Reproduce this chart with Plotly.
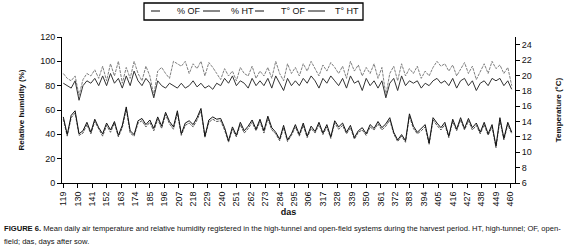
import plotly.graph_objects as go

# days after sowing (sampled every 3 days)
das = list(range(119, 462, 3))

rh_of = [90, 86, 84, 88, 72, 85, 90, 88, 93, 86,
         96, 84, 98, 88, 100, 82, 95, 86, 100, 90,
         84, 96, 88, 72, 92, 95, 90, 86, 100, 98,
         96, 100, 90, 98, 94, 100, 88, 99, 95, 90,
         85, 94, 88, 92, 84, 95, 90, 88, 96, 86,
         92, 88, 95, 86, 100, 90, 84, 98, 90, 95,
         88, 98, 92, 100, 94, 88, 97, 92, 99, 95,
         90, 96, 86, 100, 92, 97, 88, 95, 90, 98,
         86, 95, 72, 90, 96, 84, 98, 88, 94, 90,
         96, 86, 92, 88, 95, 100, 96, 98, 92, 97,
         88, 94, 99, 90, 96, 85, 92, 98, 90, 100,
         94, 97, 90, 95, 80]

rh_ht = [82, 80, 78, 84, 68, 80, 84, 82, 86, 80,
         88, 80, 90, 82, 86, 78, 88, 80, 92, 84,
         80, 86, 82, 70, 84, 80, 78, 82, 80, 78,
         82, 78, 80, 84, 79, 82, 78, 80, 77, 82,
         80, 86, 82, 88, 80, 84, 82, 78, 86, 80,
         84, 80, 86, 78, 88, 82, 76, 86, 80, 84,
         80, 86, 82, 88, 84, 78, 86, 82, 88, 84,
         80, 86, 78, 88, 82, 84, 76, 86, 80, 84,
         78, 84, 70, 82, 86, 76, 88, 80, 84, 82,
         84, 78, 82, 80, 84, 86, 82, 84, 80, 86,
         78, 84, 86, 80, 84, 76, 82, 84, 80, 86,
         84, 86, 80, 84, 77]

t_ht = [14.6, 12.3, 14.8, 15.4, 12.4, 12.8, 13.9, 12.6, 14.3, 13.2,
        12.4, 13.8, 12.9, 14.0, 12.2, 13.5, 15.9, 12.8, 12.3, 14.1,
        14.4, 13.6, 14.2, 13.1, 14.6, 13.4, 15.2, 14.0, 13.3, 15.4,
        12.4, 13.8, 14.1, 13.6, 14.5, 15.7, 12.1, 14.2, 14.6, 14.3,
        14.4, 13.2, 11.5, 13.3, 12.2, 13.9, 12.8, 13.4, 14.2, 13.0,
        14.3, 12.8, 14.7, 13.2, 12.6, 11.7, 13.5, 11.6, 12.4, 13.6,
        12.3, 13.8, 12.1, 13.4, 12.7, 13.9, 12.5, 13.6, 12.0, 14.1,
        13.3, 13.8, 12.6, 13.5, 11.9, 12.8, 13.2, 12.4, 13.6, 13.1,
        14.0, 13.2, 13.7, 14.5, 12.6, 11.6, 12.3, 11.5, 15.0, 13.4,
        12.6, 13.1, 13.6, 11.2, 14.5, 13.8, 13.2, 13.9, 12.1, 14.3,
        13.0, 14.5, 13.1, 14.4, 13.2, 13.8, 12.6, 13.9, 12.4, 13.6,
        10.8, 14.5, 11.8, 13.9, 12.6]

t_of = [14.3, 12.1, 14.5, 15.1, 12.2, 12.5, 13.6, 12.4, 14.0, 13.0,
        12.1, 13.5, 12.6, 13.8, 12.0, 13.2, 15.6, 12.5, 12.1, 13.8,
        14.1, 13.3, 13.9, 12.8, 14.3, 13.1, 14.9, 13.7, 13.0, 15.1,
        12.2, 13.5, 13.8, 13.3, 14.2, 15.4, 11.9, 13.9, 14.3, 14.0,
        14.1, 12.9, 11.3, 13.0, 12.0, 13.6, 12.5, 13.1, 13.9, 12.8,
        14.0, 12.5, 14.4, 12.9, 12.4, 11.5, 13.2, 11.4, 12.2, 13.3,
        12.1, 13.5, 11.9, 13.1, 12.5, 13.6, 12.3, 13.3, 11.8, 13.8,
        13.0, 13.5, 12.4, 13.2, 11.7, 12.6, 12.9, 12.2, 13.3, 12.9,
        13.7, 12.9, 13.4, 14.2, 12.4, 11.4, 12.1, 11.3, 14.7, 13.1,
        12.4, 12.8, 13.3, 11.0, 14.2, 13.5, 12.9, 13.6, 11.9, 14.0,
        12.8, 14.2, 12.9, 14.1, 12.9, 13.5, 12.4, 13.6, 12.2, 13.3,
        10.6, 14.2, 11.6, 13.6, 12.4]

x_ticks = list(range(119, 461, 11))

series_names = ["% OF", "% HT", "T° OF", "T° HT"]
series_colors = ["#808080", "#333333", "#555555", "#111111"]
series_dash = ["3px,1px", "solid", "3px,1px", "solid"]

FONT = "Liberation Sans, Arial, sans-serif"

fig = go.Figure()
fig.add_trace(go.Scatter(x=das, y=rh_of, name=series_names[0], mode="lines",
                         line=dict(color=series_colors[0], width=1, dash=series_dash[0])))
fig.add_trace(go.Scatter(x=das, y=rh_ht, name=series_names[1], mode="lines",
                         line=dict(color=series_colors[1], width=1, dash=series_dash[1])))
fig.add_trace(go.Scatter(x=das, y=t_of, name=series_names[2], mode="lines", yaxis="y2",
                         line=dict(color=series_colors[2], width=1, dash=series_dash[2])))
fig.add_trace(go.Scatter(x=das, y=t_ht, name=series_names[3], mode="lines", yaxis="y2",
                         line=dict(color=series_colors[3], width=1, dash=series_dash[3])))

L, R, T, B = 62, 515, 37, 183
W = R - L
H = B - T

def px(x):
    return (x - L) / W

def py(y):
    return (B - y) / H

axis_common = dict(showline=True, linecolor="#000", linewidth=1, ticks="outside",
                   ticklen=4, tickcolor="#000", showgrid=False, zeroline=False,
                   tickfont=dict(size=9), automargin=False)

fig.update_layout(
    width=579, height=251,
    margin=dict(l=L, r=579 - R, t=T, b=251 - B),
    paper_bgcolor="white", plot_bgcolor="white",
    font=dict(family=FONT, size=9, color="#111111"),
    showlegend=False,
    xaxis=dict(range=[118, 463.5], tickvals=x_ticks, tickangle=-90,
               title=dict(text="<b>das</b>", font=dict(size=9), standoff=3),
               **axis_common),
    yaxis=dict(range=[0, 120], tickvals=list(range(0, 121, 20)),
               title=dict(text="<b>Relative humidity (%)</b>", font=dict(size=8), standoff=14),
               **axis_common),
    yaxis2=dict(range=[6, 25], tickvals=list(range(6, 25, 2)), overlaying="y", side="right",
                title=dict(text="<b>Temperature (°C)</b>", font=dict(size=8), standoff=24),
                **axis_common),
)

# legend frame
fig.add_shape(type="rect", xref="paper", yref="paper",
              x0=px(144), x1=px(363), y0=py(20), y1=py(3),
              line=dict(color="#000000", width=1.3), layer="above")
leg_line_x = [(151, 167), (203, 220), (255, 272), (308, 325)]
leg_text_x = [175, 229, 279, 333]
for i in range(4):
    fig.add_shape(type="line", xref="paper", yref="paper",
                  x0=px(leg_line_x[i][0]), x1=px(leg_line_x[i][1]), y0=py(11), y1=py(11),
                  line=dict(color="#111", width=1, dash="dash" if "px" in series_dash[i] else "solid"),
                  layer="above")
    fig.add_annotation(xref="paper", yref="paper", x=px(leg_text_x[i]), y=py(11),
                       xanchor="left", yanchor="middle", showarrow=False,
                       text=series_names[i], font=dict(size=9, family=FONT, color="#111"))

fig.add_annotation(xref="paper", yref="paper", x=px(2), y=py(228), xanchor="left", yanchor="middle",
                   showarrow=False, align="left",
                   text="<b>FIGURE 6.</b> Mean daily air temperature and relative humidity registered in the high-tunnel and open-field systems during the harvest period. HT, high-tunnel; OF, open-",
                   font=dict(size=7.6, family=FONT, color="#111"))
fig.add_annotation(xref="paper", yref="paper", x=px(2), y=py(241), xanchor="left", yanchor="middle",
                   showarrow=False, align="left",
                   text="field; das, days after sow.",
                   font=dict(size=7.6, family=FONT, color="#111"))

fig.write_html("out.html", config={"displayModeBar": False},
               post_script="document.body.style.margin='0';")
